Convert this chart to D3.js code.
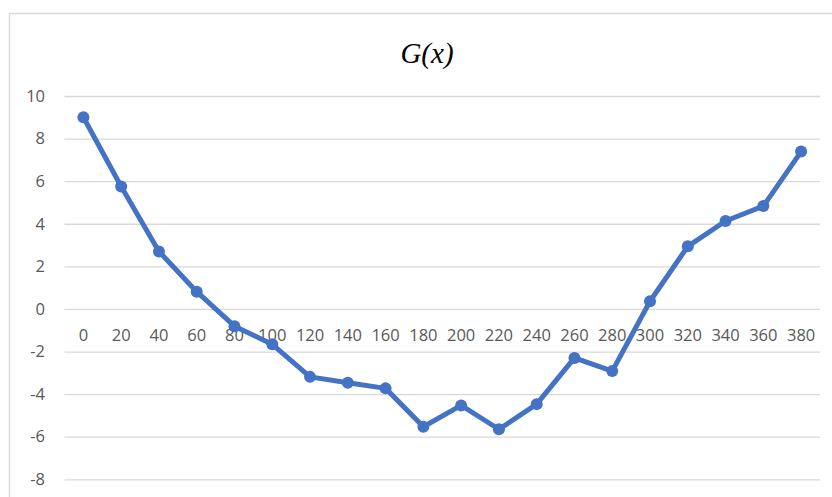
<!DOCTYPE html>
<meta charset="utf-8">
<script src="https://d3js.org/d3.v7.min.js"></script>
<style>
  body {margin: 0; background: #fff;}
  .tick text {font-family: "Open Sans", Arial, sans-serif; font-size: 16.5px; fill: #595959;}
</style>
<div id="chart"></div>
<script>

// data
var categories = ["0","20","40","60","80","100","120","140","160","180","200","220","240","260","280","300","320","340","360","380"];
var values = [9.0, 5.75, 2.7, 0.81, -0.81, -1.66, -3.19, -3.47, -3.73, -5.53, -4.53, -5.65, -4.47, -2.30, -2.92, 0.36, 2.94, 4.13, 4.83, 7.39];
var yTicks = [-8, -6, -4, -2, 0, 2, 4, 6, 8, 10];

var W = 832, H = 497;
var plot = {left: 64.5, right: 820, top: 96, bottom: 479.3};

var svg = d3.select("#chart")
  .append("svg")
    .attr("width", W)
    .attr("height", H);

// chart frame (cropped at right and bottom)
svg.append("rect")
  .attr("x", 9.5).attr("y", 13.5)
  .attr("width", 900).attr("height", 600)
  .attr("fill", "none")
  .attr("stroke", "#d9d9d9")
  .attr("stroke-width", 1.5);

// title
svg.append("text")
  .attr("x", 427).attr("y", 63)
  .attr("text-anchor", "middle")
  .style("font-family", "'Liberation Serif', 'Times New Roman', serif")
  .style("font-style", "italic")
  .style("font-size", "29px")
  .style("fill", "#000")
  .text("G(x)");

var x = d3.scaleBand()
  .domain(categories)
  .range([plot.left, plot.right])
  .padding(0);

var y = d3.scaleLinear()
  .domain([-8, 10])
  .range([plot.bottom, plot.top]);

// Y axis with gridlines (plain hyphen for negatives, like the original)
var yAxis = svg.append("g")
  .attr("transform", "translate(" + plot.left + ",0)")
  .call(d3.axisLeft(y).tickValues(yTicks).tickFormat(String)
    .tickSize(-(plot.right - plot.left)).tickPadding(19.5));
yAxis.select(".domain").remove();
yAxis.selectAll(".tick line").attr("stroke", "#d9d9d9").attr("stroke-width", 1.3);

// X axis labels sit just below the zero line
var xAxis = svg.append("g")
  .attr("transform", "translate(0," + y(0) + ")")
  .call(d3.axisBottom(x).tickSize(0).tickPadding(20));
xAxis.select(".domain").remove();

// line
var line = d3.line()
  .x(function(d, i) { return x(categories[i]) + x.bandwidth() / 2; })
  .y(function(d) { return y(d); });

svg.append("path")
  .datum(values)
  .attr("d", line)
  .attr("fill", "none")
  .attr("stroke", "#4472c4")
  .attr("stroke-width", 5)
  .attr("stroke-linejoin", "round");

// markers
svg.selectAll("circle.pt")
  .data(values)
  .enter()
  .append("circle")
    .attr("class", "pt")
    .attr("cx", function(d, i) { return x(categories[i]) + x.bandwidth() / 2; })
    .attr("cy", function(d) { return y(d); })
    .attr("r", 6)
    .attr("fill", "#4472c4");

</script>
